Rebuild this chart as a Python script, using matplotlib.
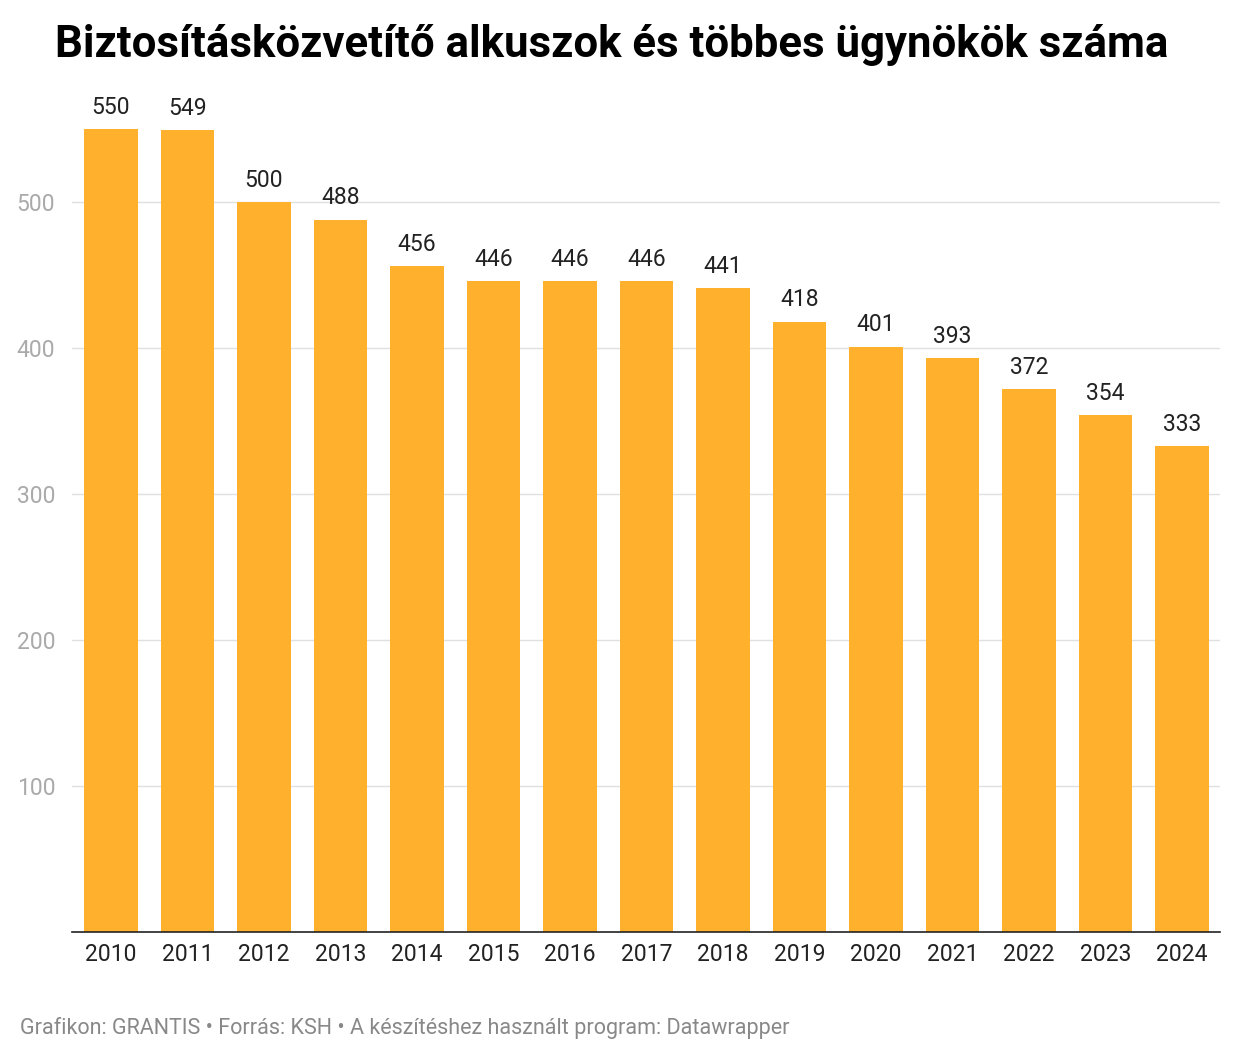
import matplotlib
matplotlib.use("Agg")
import matplotlib.pyplot as plt

years = ["2010","2011","2012","2013","2014","2015","2016","2017","2018","2019","2020","2021","2022","2023","2024"]
values = [550,549,500,488,456,446,446,446,441,418,401,393,372,354,333]
yticks = [100,200,300,400,500]

plt.rcParams["font.family"] = "Roboto"
fig = plt.figure(figsize=(12.4,10.64), dpi=100)
ax = fig.add_axes([72/1240, 132/1064, 1148/1240, 876/1064])
x = list(range(len(years)))
ax.bar(x, values, width=0.7, color="#FFB12E", zorder=2)
for xi, v in zip(x, values):
    ax.text(xi, v+7, str(v), ha="center", va="bottom", fontsize=16.5, color="#222222")
ax.set_xlim(-0.51, len(years)-0.5)
ax.set_ylim(0, 600)
ax.set_xticks(x)
ax.set_xticklabels(years, fontsize=16.5, color="#222222")
ax.set_yticks(yticks)
ax.set_yticklabels([str(t) for t in yticks], fontsize=16.5, color="#aaaaaa")
ax.tick_params(axis="both", length=0)
ax.tick_params(axis="y", pad=12)
ax.tick_params(axis="x", pad=8)
ax.grid(axis="y", color="#e0e0e0", linewidth=1, zorder=0)
for s in ["top","right","left"]:
    ax.spines[s].set_visible(False)
ax.spines["bottom"].set_color("#222222")
ax.spines["bottom"].set_linewidth(1.2)
ax.spines["bottom"].set_zorder(3)
fig.text(55/1240, 1-45/1064, "Biztosításközvetítő alkuszok és többes ügynökök száma",
         fontsize=31.5, fontweight="bold", va="center", ha="left", color="#000000")
fig.text(20/1240, 1-1028/1064, "Grafikon: GRANTIS • Forrás: KSH • A készítéshez használt program: Datawrapper",
         fontsize=15.5, va="center", ha="left", color="#888888")
fig.savefig("out.png", dpi=100, facecolor="white")
